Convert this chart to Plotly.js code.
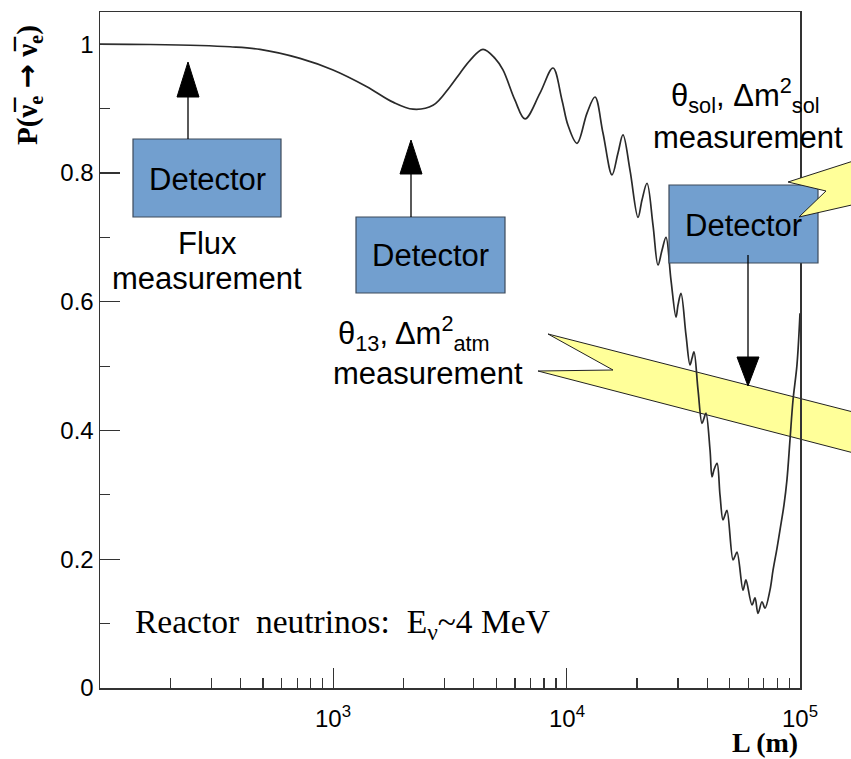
<!DOCTYPE html>
<html>
<head>
<meta charset="utf-8">
<script src="https://cdn.plot.ly/plotly-3.0.1.min.js"></script>
<style>html,body{margin:0;padding:0;background:#fff;}</style>
</head>
<body>
<div id="chart" style="width:851px;height:759px;"></div>
<script>
// ---- data ----
const L_m = [100,164,268,361,485,720,997,1393,1802,2195,2674,3162,3491,3853,4379,4931,5334,6004,6628,7686,8737,9550,10132,11073,12224,13225,14309,15644,16596,17434,18685,20219,21030,22098,23442,24625,25620,26651,27989,29420,30010,30903,32469,33774,34450,35134,36553,38019,38790,39537,41149,41972,42800,44098,45402,46773,47720,48655,51636,52660,53723,56960,57830,58690,62270,64139,66070,68730,70800,74350,76630,79690,82030,85360,87900,90580,93330,97050,100000];
const P_survival = [1.000,0.9995,0.998,0.996,0.992,0.978,0.960,0.934,0.910,0.899,0.905,0.934,0.955,0.975,0.992,0.978,0.960,0.913,0.884,0.924,0.963,0.913,0.874,0.846,0.893,0.918,0.862,0.797,0.831,0.859,0.804,0.731,0.758,0.784,0.719,0.657,0.680,0.700,0.634,0.576,0.595,0.613,0.548,0.502,0.512,0.522,0.463,0.411,0.419,0.427,0.370,0.328,0.339,0.349,0.300,0.261,0.269,0.276,0.199,0.205,0.211,0.152,0.160,0.168,0.129,0.140,0.116,0.134,0.124,0.152,0.183,0.217,0.245,0.284,0.323,0.385,0.447,0.502,0.582];

const xMajorTicks = [1000, 10000, 100000];
const xMajorLabels = ['10<sup>3</sup>', '10<sup>4</sup>', '10<sup>5</sup>'];
const xMinorTicks = [200,300,400,500,600,700,800,900,2000,3000,4000,5000,6000,7000,8000,9000,20000,30000,40000,50000,60000,70000,80000,90000];
const yMajorTicks = [0, 0.2, 0.4, 0.6, 0.8, 1];
const yMajorLabels = ['0', '0.2', '0.4', '0.6', '0.8', '1'];
const yMinorTicks = [0.1, 0.3, 0.5, 0.7, 0.9];

const detectorLabel = 'Detector';
const fluxText = ['Flux', 'measurement'];
const atmText = ['θ<sub>13</sub>, Δm<sup>2</sup><sub>atm</sub>', 'measurement'];
const solText = ['θ<sub>sol</sub>, Δm<sup>2</sup><sub>sol</sub>', 'measurement'];
const reactorText = 'Reactor\u00a0\u00a0neutrinos:\u00a0\u00a0E<sub>ν</sub>~4 MeV';
const xTitle = '<b>L (m)</b>';
const yTitle = '<b>P(ν̅<sub>e</sub> <span style="font-family:DejaVu Sans">→</span> ν̅<sub>e</sub>)</b>';

// ---- layout geometry (pixels of the 851x759 page) ----
const W = 851, H = 759;
const plotL = 100, plotR = 800, plotT = 12, plotB = 688;
const fx = x => (x - plotL) / (plotR - plotL);
const fy = y => (plotB - y) / (plotB - plotT);
const pathOf = pts => 'M ' + pts.map(p => fx(p[0]).toFixed(5) + ',' + fy(p[1]).toFixed(5)).join(' L ') + ' Z';

const boxFill = '#729fcf', boxLine = '#3c4a5a';
const boltFill = '#ffff99';
const sansFont = 'Liberation Sans, Arial, sans-serif';
const serifFont = 'Liberation Serif, Times New Roman, serif';

const boxes = [
  {x0: 133, y0: 139, x1: 281, y1: 217},
  {x0: 356, y0: 217, x1: 505, y1: 293},
  {x0: 669, y0: 185, x1: 818, y1: 263}
];
// arrows: x, shaft start, head base, tip
const arrows = [
  {x: 188, s: 139, b: 97, t: 62},
  {x: 411, s: 217, b: 174, t: 140},
  {x: 748, s: 255, b: 357, t: 386}
];
const boltLow = [[548,334],[900,424],[900,465],[538,371],[613,370]];
const boltHigh = [[788,182],[900,146],[900,194],[799,217],[826,191]];

const shapes = [];
shapes.push({type:'path', xref:'paper', yref:'paper', layer:'below', path: pathOf(boltLow),
  fillcolor: boltFill, line:{color:'#222', width:1}});
boxes.forEach((b, i) => {
  shapes.push({type:'rect', xref:'paper', yref:'paper', layer: i === 2 ? 'above' : 'below',
    x0: fx(b.x0), x1: fx(b.x1), y0: fy(b.y1), y1: fy(b.y0),
    fillcolor: boxFill, line:{color: boxLine, width:1.2}});
});
shapes.push({type:'path', xref:'paper', yref:'paper', layer:'above', path: pathOf(boltHigh),
  fillcolor: boltFill, line:{color:'#222', width:1}});
arrows.forEach(a => {
  shapes.push({type:'line', xref:'paper', yref:'paper', layer:'above',
    x0: fx(a.x), x1: fx(a.x), y0: fy(a.s), y1: fy(a.b), line:{color:'#000', width:1.3}});
  shapes.push({type:'path', xref:'paper', yref:'paper', layer:'above',
    path: pathOf([[a.x - 11, a.b],[a.x + 11, a.b],[a.x, a.t]]),
    fillcolor:'#000', line:{color:'#000', width:1}});
});

const ann = (text, x, y, opts = {}) => Object.assign({
  text, x: fx(x), y: fy(y), xref:'paper', yref:'paper', showarrow:false,
  xanchor:'center', yanchor:'middle',
  font:{family: sansFont, size: 31, color:'#000'}
}, opts);

const annotations = [
  ann(detectorLabel, (boxes[0].x0 + boxes[0].x1) / 2, 179),
  ann(detectorLabel, (boxes[1].x0 + boxes[1].x1) / 2, 256),
  ann(detectorLabel, (boxes[2].x0 + boxes[2].x1) / 2, 225),
  ann(fluxText[0], 207, 243),
  ann(fluxText[1], 207, 278),
  ann(atmText[0], 414, 333),
  ann(atmText[1], 428, 373),
  ann(solText[0], 745, 96),
  ann(solText[1], 748, 137),
  ann(reactorText, 133, 624, {xanchor:'left', font:{family: serifFont, size: 33.5, color:'#000'}}),
  ann(xTitle, 800, 742, {xanchor:'right', font:{family: serifFont, size: 28, color:'#000'}}),
  ann(yTitle, 28, 85, {textangle: -90, font:{family: serifFont, size: 29, color:'#000'}})
];
// x tick labels placed at the axis values (log axis: annotation x is log10 of value)
xMajorTicks.forEach((v, i) => {
  annotations.push({text: xMajorLabels[i], x: Math.log10(v), xref:'x', y: fy(717), yref:'paper',
    showarrow:false, xanchor:'center', yanchor:'middle', font:{family: sansFont, size: 24, color:'#000'}});
});

const axisCommon = {
  showgrid:false, zeroline:false, showline:true, mirror:true,
  linecolor:'#333', linewidth:1.5, ticks:'inside', ticklen:20, tickwidth:1.2, tickcolor:'#333',
  tickfont:{family: sansFont, size: 24, color:'#000'}
};

const trace = {
  x: L_m, y: P_survival, type:'scatter', mode:'lines',
  line:{color:'#2a2a2a', width:1.7, shape:'spline', smoothing:1},
  hoverinfo:'skip'
};

const layout = Object.assign({
  width: W, height: H,
  margin:{l: plotL, r: W - plotR, t: plotT, b: H - plotB, pad:0},
  paper_bgcolor:'#fff', plot_bgcolor:'#fff',
  showlegend:false,
  xaxis: Object.assign({}, axisCommon, {
    type:'log', range:[2, 5], tickmode:'array', tickvals: xMajorTicks, ticktext: xMajorLabels,
    showticklabels:false,
    minor:{tickmode:'array', tickvals: xMinorTicks, ticks:'inside', ticklen:10, tickcolor:'#333', tickwidth:1.2, showgrid:false}
  }),
  yaxis: Object.assign({}, axisCommon, {
    range:[0, 1.05], tickmode:'array', tickvals: yMajorTicks, ticktext: yMajorLabels,
    minor:{tickmode:'array', tickvals: yMinorTicks, ticks:'inside', ticklen:10, tickcolor:'#333', tickwidth:1.2, showgrid:false}
  }),
  shapes, annotations
});

Plotly.newPlot('chart', [trace], layout, {staticPlot:true, displayModeBar:false});
</script>
</body>
</html>
